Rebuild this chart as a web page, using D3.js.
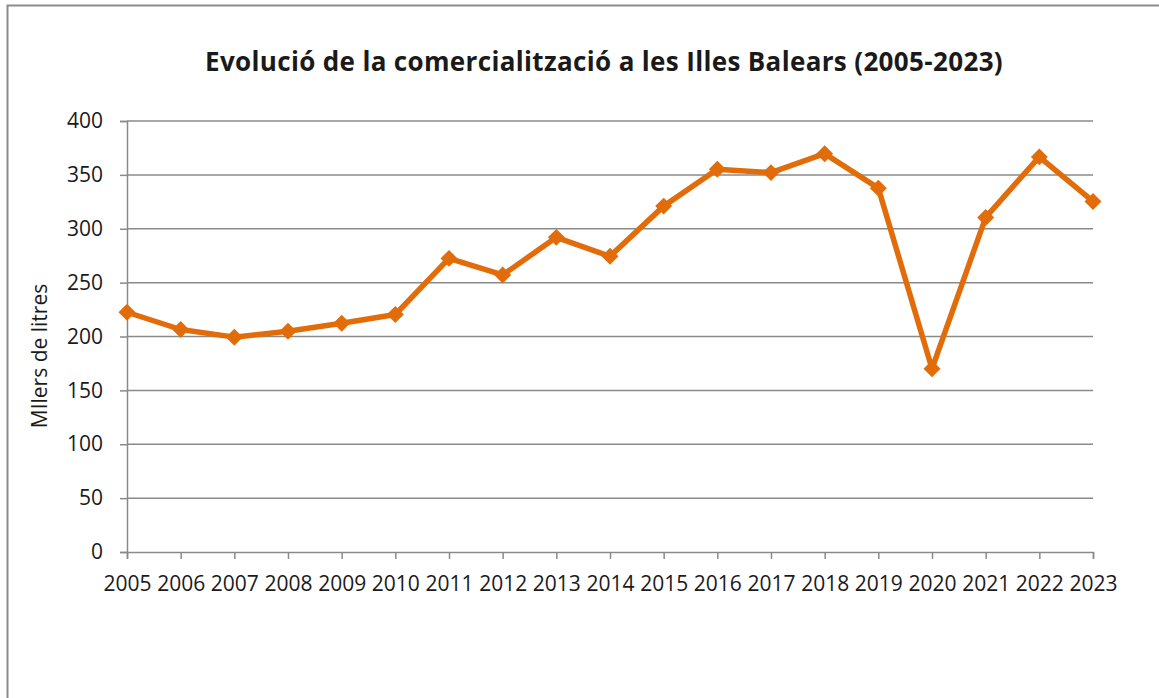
<!DOCTYPE html>
<html>
<head>
<meta charset="utf-8">
<script src="https://cdn.jsdelivr.net/npm/d3@7"></script>
<style>
  body { margin: 0; background: #fff; }
  text { font-family: "Open Sans", "Noto Sans", sans-serif; fill: #1a1a1a; }
</style>
</head>
<body>
<div id="chart"></div>
<script>
// chart data
const years = ["2005", "2006", "2007", "2008", "2009", "2010", "2011", "2012", "2013", "2014",
  "2015", "2016", "2017", "2018", "2019", "2020", "2021", "2022", "2023"];
const values = [222.5, 206.5, 199.4, 204.9, 212.3, 220.4, 272.5, 257.1, 292, 274.4,
  321, 355.3, 352.1, 369.7, 337.7, 170.1, 310.5, 366.7, 325.3];
const yTicks = [0, 50, 100, 150, 200, 250, 300, 350, 400];
const title = "Evolució de la comercialització a les Illes Balears (2005-2023)";
const yTitle = "MIlers de litres";

const W = 1159, H = 698;
const margin = { top: 121, right: 66, bottom: 146, left: 127 };
const width = W - margin.left - margin.right;
const height = H - margin.top - margin.bottom;

const svg = d3.select("#chart").append("svg")
  .attr("width", W).attr("height", H);

// outer frame
svg.append("rect")
  .attr("x", 7.5).attr("y", 5.5)
  .attr("width", W + 20).attr("height", H + 20)
  .attr("fill", "none").attr("stroke", "#8c8c8c").attr("stroke-width", 2);

svg.append("text")
  .attr("x", 604).attr("y", 71)
  .attr("text-anchor", "middle")
  .attr("font-size", 26).attr("font-weight", "bold")
  .attr("letter-spacing", 0.35)
  .text(title);

const g = svg.append("g").attr("transform", `translate(${margin.left},${margin.top})`);

const x = d3.scalePoint().domain(years).range([0, width]);
const y = d3.scaleLinear().domain([0, 400]).range([height, 0]);

// gridlines
g.append("g")
  .selectAll("line")
  .data(yTicks.filter(d => d > 0))
  .join("line")
  .attr("x1", 0).attr("x2", width)
  .attr("y1", d => y(d)).attr("y2", d => y(d))
  .attr("stroke", "#8a8a8a").attr("stroke-width", 1.5);

// y axis
const yAxis = g.append("g")
  .call(d3.axisLeft(y).tickValues(yTicks).tickSize(7).tickPadding(17));
yAxis.select(".domain").attr("stroke", "#8a8a8a").attr("stroke-width", 1.5);
yAxis.selectAll(".tick line").attr("stroke", "#8a8a8a").attr("stroke-width", 1.5);
yAxis.selectAll(".tick text")
  .attr("font-size", 21).attr("fill", "#1a1a1a");

// x axis
const xAxis = g.append("g")
  .attr("transform", `translate(0,${height})`)
  .call(d3.axisBottom(x).tickSize(7).tickPadding(17));
xAxis.select(".domain").attr("stroke", "#8a8a8a").attr("stroke-width", 1.5);
xAxis.selectAll(".tick line").attr("stroke", "#8a8a8a").attr("stroke-width", 1.5);
xAxis.selectAll(".tick text")
  .attr("font-size", 21).attr("fill", "#1a1a1a");

// y title
svg.append("text")
  .attr("transform", "translate(47,356) rotate(-90)")
  .attr("text-anchor", "middle")
  .attr("font-size", 21)
  .text(yTitle);

// line
const line = d3.line().x((d, i) => x(years[i])).y(d => y(d));
g.append("path")
  .datum(values)
  .attr("d", line)
  .attr("fill", "none")
  .attr("stroke", "#e36c0a")
  .attr("stroke-width", 5.5)
  .attr("stroke-linejoin", "round");

// diamond markers
g.selectAll(".pt")
  .data(values)
  .join("path")
  .attr("class", "pt")
  .attr("transform", (d, i) => `translate(${x(years[i])},${y(d)}) rotate(45)`)
  .attr("d", "M-6,-6H6V6H-6Z")
  .attr("fill", "#e36c0a");
</script>
</body>
</html>
